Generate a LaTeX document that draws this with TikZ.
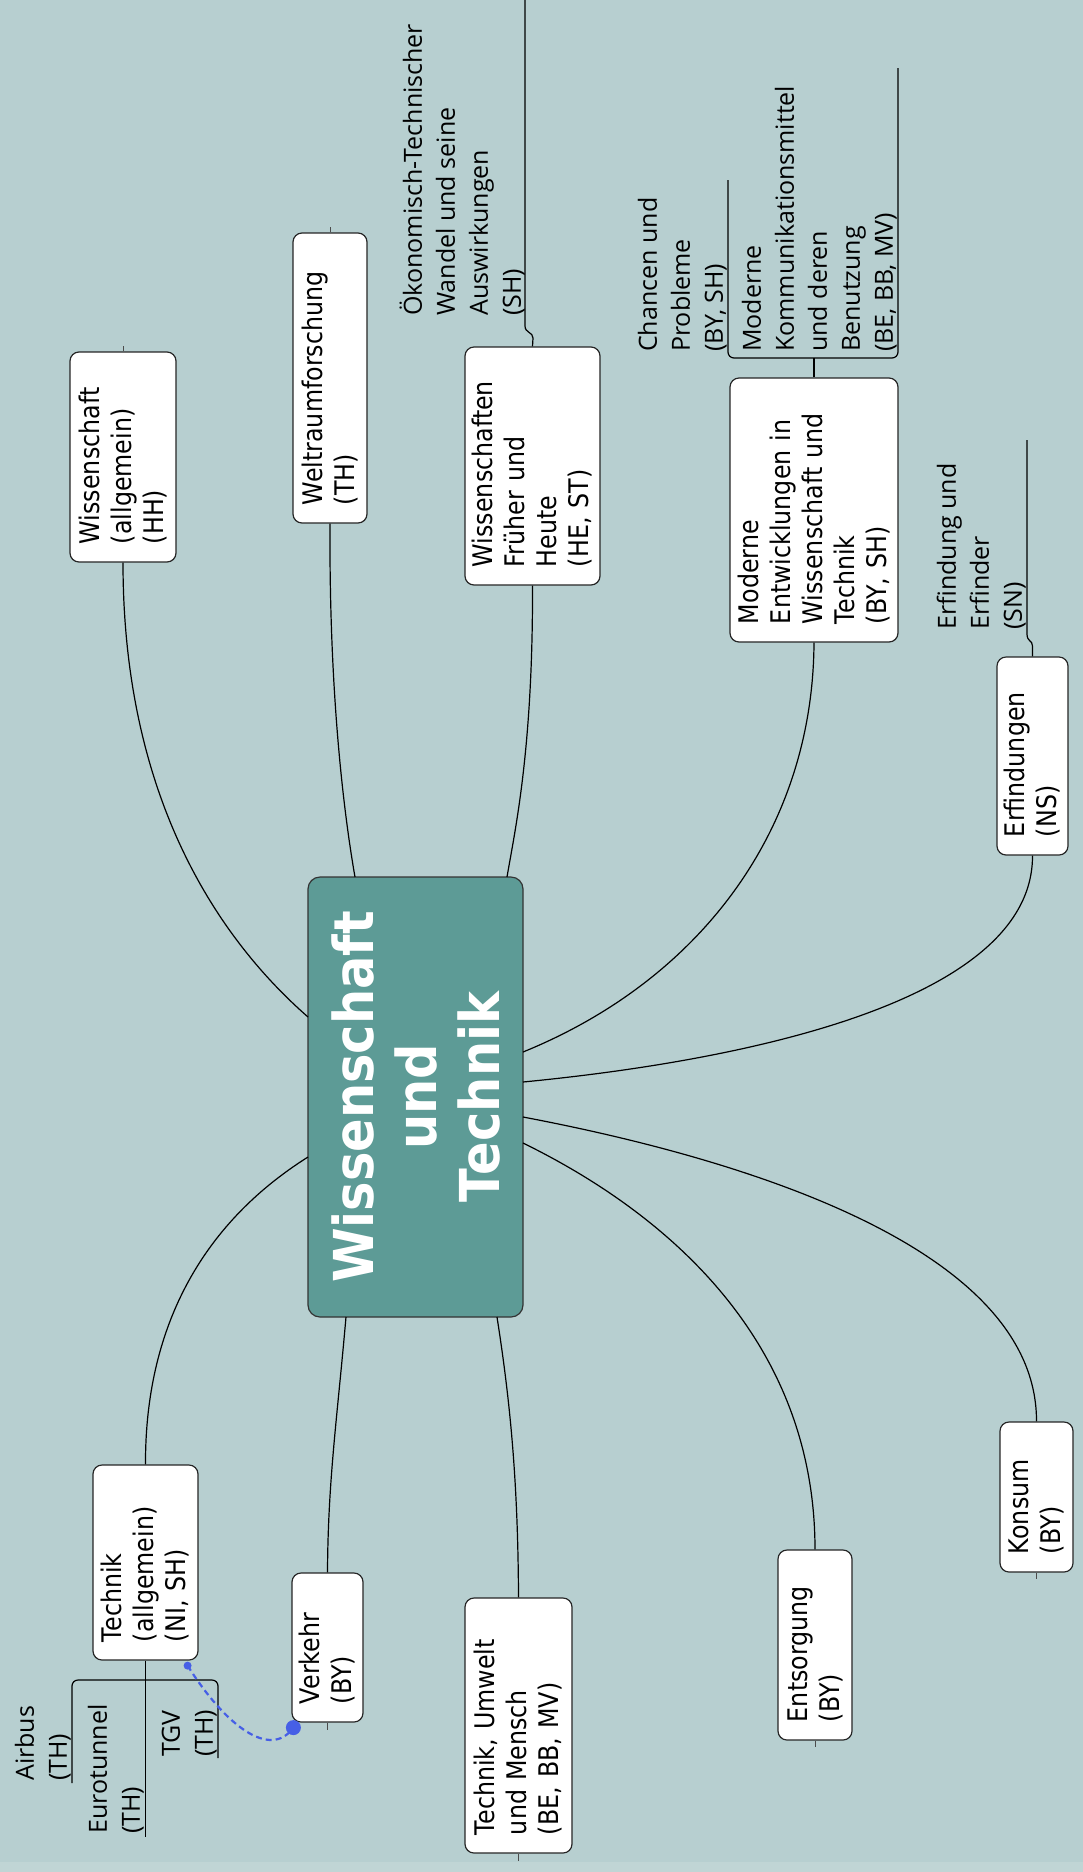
\documentclass[tikz,border=0pt]{standalone}
\usepackage{fontspec}
\setmainfont{DejaVu Sans}
\newfontfamily\boxfont{DejaVu Sans}[FakeStretch=0.88]
\newfontfamily\titlefont{DejaVu Sans}[FakeStretch=0.9]
\newfontfamily\labelfont{Open Sans}
\usetikzlibrary{calc}
\definecolor{bg}{RGB}{183,207,208}
\definecolor{bgstrip}{RGB}{192,213,213}
\definecolor{core}{RGB}{93,155,150}
\definecolor{rel}{RGB}{70,95,230}
\begin{document}
\begin{tikzpicture}[x=1pt,y=-1pt,
  topic/.style={draw=black!85, fill=white, rounded corners=9pt, line width=1.2pt,
    rotate=90, align=left, inner xsep=18pt, inner ysep=2pt,
    font={\boxfont\fontsize{27}{32}\selectfont}},
  coretopic/.style={draw=black!80, fill=core, rounded corners=12pt, line width=1.2pt,
    rotate=90, align=center, inner sep=0pt, text=white,
    font={\titlefont\bfseries\fontsize{55}{63}\selectfont}},
  sublabel/.style={rotate=90, align=left, inner sep=0pt, anchor=south west,
    font={\labelfont\fontsize{25}{33}\selectfont}},
  link/.style={line width=1.2pt, black},
  tick/.style={line width=0.8pt, black!70},
  relation/.style={rel, dashed, dash pattern=on 6pt off 4pt, line width=2.2pt}
]
\fill[bg] (0,0) rectangle (1083,1872);
\fill[bgstrip] (0,1862) rectangle (1083,1872);
\useasboundingbox (0,0) rectangle (1083,1872);

% central topic
\node[coretopic, minimum width=440pt, minimum height=215pt] (c) at (415.5,1097) {Wissenschaft\\und\\Technik};

% main topics
\node[topic, text width=174pt, minimum height=106pt] (wa) at (123,457) {Wissenschaft\\(allgemein)\\(HH)};
\node[topic, text width=254pt, minimum height=74pt] (wr) at (330,378) {Weltraumforschung\\(TH)};
\node[topic, text width=202pt, minimum height=135pt] (wf) at (532.5,466) {Wissenschaften\\Früher und\\Heute\\(HE, ST)};
\node[topic, text width=228pt, minimum height=168pt] (me) at (814,510) {Moderne\\Entwicklungen in\\Wissenschaft und\\Technik\\(BY, SH)};
\node[topic, text width=162pt, minimum height=71pt] (er) at (1032.5,756) {Erfindungen\\(NS)};
\node[topic, text width=114pt, minimum height=73pt] (ko) at (1036.5,1497) {Konsum\\(BY)};
\node[topic, text width=154pt, minimum height=74pt] (en) at (815,1645) {Entsorgung\\(BY)};
\node[topic, text width=219pt, minimum height=107pt] (tu) at (518.5,1725.5) {Technik, Umwelt\\und Mensch\\(BE, BB, MV)};
\node[topic, text width=113pt, minimum height=71pt] (ve) at (327.5,1647.5) {Verkehr\\(BY)};
\node[topic, text width=159pt, minimum height=105pt] (ta) at (145.5,1562.5) {Technik\\(allgemein)\\(NI, SH)};

% connectors from the centre
\draw[link] (wa.west) .. controls (123,800) and (220,940) .. ($(c.center)+(-107.5,-80)$);
\draw[link] (wr.west) .. controls (329,700) and (345,820) .. ($(c.center)+(-60.5,-220)$);
\draw[link] (wf.west) .. controls (533,750) and (515,830) .. ($(c.center)+(91.5,-220)$);
\draw[link] (me.west) .. controls (813,830) and (700,980) .. ($(c.center)+(107.5,-45)$);
\draw[link] (er.west) .. controls (1033,1000) and (750,1060) .. ($(c.center)+(107.5,-15)$);
\draw[link] ($(c.center)+(107.5,20)$) .. controls (750,1160) and (1037,1250) .. (ko.east);
\draw[link] ($(c.center)+(107.5,46)$) .. controls (680,1220) and (815,1350) .. (en.east);
\draw[link] ($(c.center)+(81.5,220)$) .. controls (510,1400) and (518,1480) .. (tu.east);
\draw[link] ($(c.center)+(-69.5,220)$) .. controls (337,1420) and (328,1480) .. (ve.east);
\draw[link] ($(c.center)+(-107.5,60)$) .. controls (200,1225) and (145,1330) .. (ta.east);

% small stubs
\draw[tick] (wa.east) -- ++(0,-5);
\draw[tick] (wr.east) -- ++(0,-5);
\draw[tick] (ve.west) -- ++(0,7);
\draw[tick] (tu.west) -- ++(0,7);
\draw[tick] (en.west) -- ++(0,6);
\draw[tick] (ko.west) -- ++(0,6);

% subtopics (underlined labels)
\node[sublabel] (ok) at (525,316) {Ökonomisch-Technischer\\Wandel und seine\\Auswirkungen\\(SH)};
\coordinate (okend) at (525,-2);
\draw[link] (wf.east) -- (533,338) .. controls (533,332) and (525,333) .. (525,326) -- (okend);

\node[sublabel] (ch) at (727,352) {Chancen und\\Probleme\\(BY, SH)};
\node[sublabel] (km) at (897,352) {Moderne\\Kommunikationsmittel\\und deren\\Benutzung\\(BE, BB, MV)};
\coordinate (chend) at (728,180);
\coordinate (kmend) at (898,68);
\draw[link, rounded corners=6pt] (chend) -- (728,358) -- (898,358) -- (kmend);
\draw[link] (me.east) -- (814,358);

\node[sublabel] (ef) at (1026,630) {Erfindung und\\Erfinder\\(SN)};
\coordinate (efend) at (1027,440);
\draw[link] (er.east) -- (1032.5,646) .. controls (1032.5,640) and (1027,642) .. (1027,634) -- (efend);

\node[sublabel] (ab) at (71,1781) {Airbus\\(TH)};
\node[sublabel] (eu) at (144,1834) {Eurotunnel\\(TH)};
\node[sublabel] (tg) at (217,1757) {TGV\\(TH)};
\coordinate (abend) at (72,1783);
\coordinate (tgend) at (218,1758);
\coordinate (euend) at (145.5,1837);
\draw[link, rounded corners=6pt] (abend) -- (72,1680) -- (218,1680) -- (tgend);
\draw[link] (ta.west) -- (euend);

% relationship
\coordinate (r1) at ($(ta.south west)+(-11,5)$);
\coordinate (r2) at ($(ve.north west)+(2,5)$);
\draw[relation] (r1) .. controls (225,1725) and (270,1760) .. (r2);
\fill[rel] (r1) circle (4pt);
\fill[rel] (r2) circle (7.5pt);
\end{tikzpicture}
\end{document}
